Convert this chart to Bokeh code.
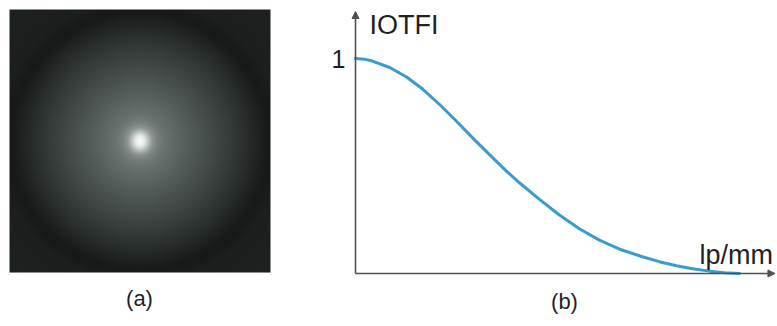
import numpy as np
from bokeh.plotting import figure
from bokeh.layouts import row
from bokeh.models import Range1d, Label, LabelSet, Arrow, NormalHead, ColumnDataSource
from bokeh.core.properties import value
from bokeh.embed import file_html
from bokeh.resources import INLINE

# ---- data: panel (b) |OTF| curve (normalised frequency, modulus) ----
freq = [0.000, 0.023, 0.044, 0.089, 0.133, 0.174, 0.219, 0.263, 0.305, 0.349,
        0.393, 0.427, 0.479, 0.531, 0.583, 0.635, 0.688, 0.747, 0.791, 0.836,
        0.878, 0.922, 0.961, 1.000]
otf = [1.000, 0.997, 0.988, 0.958, 0.914, 0.859, 0.786, 0.708, 0.631, 0.553,
       0.476, 0.422, 0.345, 0.272, 0.208, 0.155, 0.113, 0.078, 0.055, 0.036,
       0.022, 0.011, 0.004, 0.000]
y_ticks = [1]
y_tick_labels = ["1"]

# ---- data: panel (a) radial brightness profile (radius / half width, level) ----
prof_r = [0.000, 0.038, 0.069, 0.100, 0.138, 0.192, 0.269, 0.385, 0.500, 0.615,
          0.731, 0.831, 0.908, 0.969, 1.008, 1.077, 1.460]
prof_level = [255, 235, 190, 150, 128, 115, 105, 92, 80, 68,
              56, 45, 35, 27, 25, 30, 34]

FONT = "Liberation Sans"
TXT = "#1f1f1f"
H = 325

# ---------------- panel (a) ----------------
N = 262
g = np.linspace(-1, 1, N)
X, Y = np.meshgrid(g, g)
R = np.sqrt(X ** 2 + Y ** 2)
G = np.interp(R, prof_r, prof_level)
frac = G / 255.0
img = np.empty((N, N), dtype=np.uint32)
view = img.view(dtype=np.uint8).reshape((N, N, 4))
view[:, :, 0] = np.clip(G * (0.86 + 0.14 * frac), 0, 255).astype(np.uint8)
view[:, :, 1] = np.clip(G, 0, 255).astype(np.uint8)
view[:, :, 2] = np.clip(G * (0.96 + 0.04 * frac), 0, 255).astype(np.uint8)
view[:, :, 3] = 255

WA = 300
pa = figure(width=WA, height=H, output_backend="svg", toolbar_location=None,
            x_range=Range1d(-1 - 9 / 130.5, 1 + (WA - 270) / 130.5),
            y_range=Range1d(-1 - (H - 272) / 131.5, 1 + 9 / 131.5),
            min_border=0)
pa.image_rgba(image=[img], x=-1, y=-1, dw=2, dh=2)
pa.axis.visible = False
pa.grid.visible = False
pa.outline_line_color = None
pa.add_layout(Label(x=139, y=H - 298, x_units="screen", y_units="screen", text="(a)",
                    text_font=FONT, text_font_size="22px", text_color=TXT,
                    text_align="center", text_baseline="middle"))

# ---------------- panel (b) ----------------
WB = 476
AX = 55          # screen x of the vertical axis inside the figure
PX = 384         # pixels per unit frequency
pb = figure(width=WB, height=H, output_backend="svg", toolbar_location=None,
            x_range=Range1d(-AX / PX, (WB - AX) / PX),
            y_range=Range1d(-(H - 273) / 215, 1 + 58 / 215),
            min_border=0)
pb.axis.visible = False
pb.grid.visible = False
pb.outline_line_color = None

axis_col = "#505050"
x_end = (WB - AX) / PX
pb.add_layout(Arrow(x_start=0, y_start=0, x_end=0, y_end=1 + 47 / 215,
                    line_color=axis_col, line_width=1.6,
                    end=NormalHead(size=7, fill_color=axis_col, line_color=axis_col)))
pb.add_layout(Arrow(x_start=0, y_start=0, x_end=x_end - 0.004, y_end=0,
                    line_color=axis_col, line_width=1.6,
                    end=NormalHead(size=7, fill_color=axis_col, line_color=axis_col)))

pb.line(freq, otf, line_color="#3a9ccc", line_width=3, line_join="round", line_cap="round")

tick_src = ColumnDataSource(dict(x=[0] * len(y_ticks), y=y_ticks, t=y_tick_labels))
pb.add_layout(LabelSet(x="x", y="y", text="t", source=tick_src, x_offset=-10,
                       text_font=value(FONT), text_font_size=value("25px"),
                       text_color=value(TXT),
                       text_align="right", text_baseline="middle"))

pb.add_layout(Label(x=AX + 14, y=301, x_units="screen", y_units="screen", text="IOTFI",
                    text_font=FONT, text_font_size="27px", text_color=TXT,
                    text_align="left", text_baseline="alphabetic"))
pb.add_layout(Label(x=AX + 344, y=71, x_units="screen", y_units="screen", text="lp/mm",
                    text_font=FONT, text_font_size="27px", text_color=TXT,
                    text_align="left", text_baseline="alphabetic"))
pb.add_layout(Label(x=AX + 209, y=H - 301, x_units="screen", y_units="screen", text="(b)",
                    text_font=FONT, text_font_size="22px", text_color=TXT,
                    text_align="center", text_baseline="middle"))

layout = row(pa, pb)
open("out.html", "w").write(file_html(layout, INLINE))
